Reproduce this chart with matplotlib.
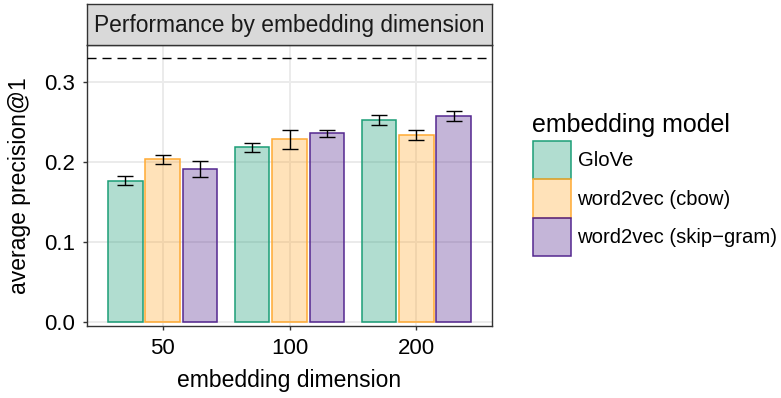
import matplotlib
matplotlib.use("Agg")
import matplotlib.pyplot as plt
import matplotlib.patches as mpatches
import numpy as np

plt.rcParams['font.family'] = ['Liberation Sans', 'DejaVu Sans']

dimensions = ["50", "100", "200"]
models = ["GloVe", "word2vec (cbow)", "word2vec (skip\u2212gram)"]
edge_colors = ["#1b9e77", "#ffaa33", "#54278f"]

# mean precision@1 per model, one value per dimension
means = {
    "GloVe": [0.176, 0.218, 0.252],
    "word2vec (cbow)": [0.203, 0.228, 0.234],
    "word2vec (skip\u2212gram)": [0.191, 0.2355, 0.2575],
}
err_low = {
    "GloVe": [0.1705, 0.2125, 0.246],
    "word2vec (cbow)": [0.197, 0.216, 0.2275],
    "word2vec (skip\u2212gram)": [0.181, 0.231, 0.2505],
}
err_high = {
    "GloVe": [0.182, 0.224, 0.258],
    "word2vec (cbow)": [0.209, 0.240, 0.240],
    "word2vec (skip\u2212gram)": [0.201, 0.2396, 0.264],
}
baseline = 0.33

W, H = 781, 398
fig = plt.figure(figsize=(W / 100, H / 100), dpi=100)
ax = fig.add_axes([86.7 / W, (H - 326) / H, (492.3 - 86.7) / W, (326 - 45) / H])
strip = fig.add_axes([86.7 / W, (H - 45) / H, (492.3 - 86.7) / W, 41 / H])

dark = "#333333"
x = np.arange(len(dimensions))
offset = 0.295
width = 0.273
for i, (m, ec) in enumerate(zip(models, edge_colors)):
    xs = x + (i - 1) * offset
    ax.bar(xs, means[m], width=width, color=matplotlib.colors.to_rgba(ec, 0.34),
           edgecolor=ec, linewidth=1.1, zorder=3)
    lo = np.array(means[m]) - np.array(err_low[m])
    hi = np.array(err_high[m]) - np.array(means[m])
    ax.errorbar(xs, means[m], yerr=[lo, hi], fmt="none", ecolor="black",
                elinewidth=1.0, capsize=5.6, capthick=1.0, zorder=4)

ax.axhline(baseline, color="black", linewidth=1.0, linestyle=(0, (6.5, 4.3)), zorder=4)

ax.set_xlim(-0.6, 2.6)
ax.set_ylim(-0.0054, 0.346)
ax.set_xticks(x)
ax.set_xticklabels(dimensions)
ax.set_yticks([0.0, 0.1, 0.2, 0.3])
ax.set_yticklabels(["0.0", "0.1", "0.2", "0.3"])
ax.grid(True, color="#ebebeb", linewidth=1.4, zorder=0)
ax.set_axisbelow(True)
for sp in ax.spines.values():
    sp.set_color(dark)
    sp.set_linewidth(1.0)
ax.tick_params(axis="both", colors=dark, length=3, width=1.0, labelsize=16,
               labelcolor="black", pad=5.5)
ax.set_xlabel("embedding dimension", fontsize=16.5, labelpad=7.5)
ax.set_ylabel("average precision@1", fontsize=16.5, labelpad=9)

strip.set_facecolor("#d9d9d9")
strip.set_xticks([])
strip.set_yticks([])
for sp in strip.spines.values():
    sp.set_color(dark)
    sp.set_linewidth(1.0)
strip.text(0.5, 0.47, "Performance by embedding dimension", ha="center", va="center",
           fontsize=16.4, color="#1a1a1a", transform=strip.transAxes)

# legend title drawn on its own so the gap above the keys can be set
fig.text(532 / W, (H - 125) / H, "embedding model", ha="left", va="center", fontsize=18)
handles = [mpatches.Patch(facecolor=matplotlib.colors.to_rgba(ec, 0.34), edgecolor=ec,
                          linewidth=1.1, label=m)
           for m, ec in zip(models, edge_colors)]
leg = fig.legend(handles=handles, loc="upper left", bbox_to_anchor=(532.5 / W, (H - 140.7) / H),
                 frameon=False, fontsize=14.6,
                 handlelength=1.92, handleheight=2.55, labelspacing=0.0,
                 handletextpad=0.3, borderpad=0, borderaxespad=0)

fig.savefig("out.png", dpi=100)
